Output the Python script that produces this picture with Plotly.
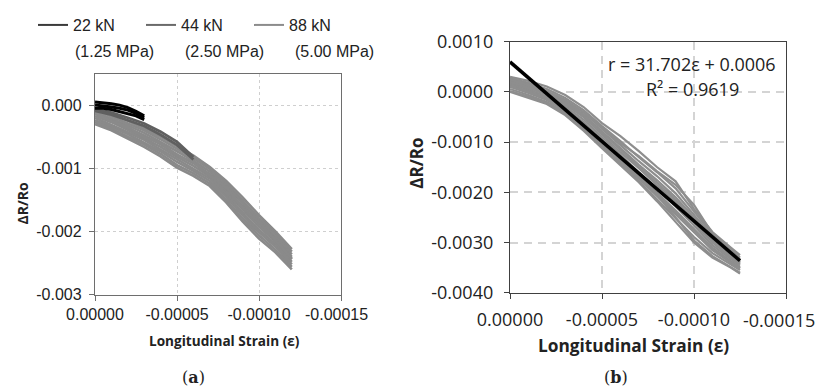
import plotly.graph_objects as go

# figure is placed by the page 8 px from the top-left corner
OFF = 8
FW, FH = 823 - OFF, 387 - OFF

# ---------------- data: panel (a) ----------------
xa_88 = [0, -1e-5, -2e-5, -3e-5, -4e-5, -5e-5, -6e-5, -7e-5, -8e-5, -9e-5, -10e-5, -11e-5, -12e-5]
ya_88 = [
    [-0.00004, -0.00014, -0.00025, -0.00037, -0.00050, -0.00065, -0.00080, -0.00098, -0.00120, -0.00146, -0.00174, -0.00200, -0.00228],
    [-0.00007, -0.00018, -0.00029, -0.00040, -0.00054, -0.00069, -0.00084, -0.00101, -0.00124, -0.00151, -0.00179, -0.00204, -0.00232],
    [-0.00011, -0.00021, -0.00032, -0.00044, -0.00058, -0.00073, -0.00088, -0.00105, -0.00128, -0.00155, -0.00183, -0.00208, -0.00236],
    [-0.00014, -0.00024, -0.00036, -0.00048, -0.00062, -0.00078, -0.00092, -0.00109, -0.00133, -0.00160, -0.00188, -0.00212, -0.00240],
    [-0.00017, -0.00027, -0.00039, -0.00052, -0.00066, -0.00082, -0.00096, -0.00113, -0.00137, -0.00165, -0.00192, -0.00216, -0.00244],
    [-0.00020, -0.00031, -0.00043, -0.00055, -0.00070, -0.00086, -0.00100, -0.00116, -0.00141, -0.00170, -0.00197, -0.00220, -0.00248],
    [-0.00024, -0.00034, -0.00046, -0.00059, -0.00073, -0.00090, -0.00104, -0.00120, -0.00145, -0.00174, -0.00201, -0.00224, -0.00252],
    [-0.00027, -0.00037, -0.00050, -0.00062, -0.00077, -0.00095, -0.00108, -0.00124, -0.00150, -0.00179, -0.00206, -0.00229, -0.00256],
    [-0.00030, -0.00040, -0.00053, -0.00066, -0.00081, -0.00099, -0.00112, -0.00128, -0.00154, -0.00184, -0.00211, -0.00233, -0.00260],
    [-0.00012, -0.00026, -0.00035, -0.00051, -0.00060, -0.00080, -0.00090, -0.00112, -0.00130, -0.00163, -0.00185, -0.00214, -0.00243],
]
xa_44 = [0, -1e-5, -2e-5, -3e-5, -4e-5, -5e-5, -6e-5]
ya_44 = [
    [-0.00006, -0.00012, -0.00020, -0.00029, -0.00042, -0.00058, -0.00082],
    [-0.00009, -0.00015, -0.00024, -0.00033, -0.00047, -0.00063, -0.00086],
]
xa_22 = [0, -0.5e-5, -1e-5, -1.5e-5, -2e-5, -2.5e-5, -3e-5]
ya_22 = [
    [0.00005, 0.00004, 0.00002, 0.00000, -0.00004, -0.00010, -0.00017],
    [0.00000, -0.00001, -0.00003, -0.00005, -0.00008, -0.00013, -0.00020],
    [-0.00005, -0.00005, -0.00007, -0.00010, -0.00013, -0.00017, -0.00023],
]

# ---------------- data: panel (b) ----------------
xb = [0, -1e-5, -2e-5, -3e-5, -4e-5, -5e-5, -6e-5, -7e-5, -8e-5, -9e-5, -10e-5, -11e-5, -12e-5, -12.5e-5]
yb = [
    [0.00030, 0.00022, 0.00011, -0.00006, -0.00030, -0.00062, -0.00088, -0.00118, -0.00150, -0.00178, -0.00233, -0.00279, -0.00310, -0.00325],
    [0.00027, 0.00018, 0.00006, -0.00012, -0.00036, -0.00068, -0.00098, -0.00130, -0.00160, -0.00192, -0.00238, -0.00284, -0.00314, -0.00330],
    [0.00024, 0.00015, 0.00002, -0.00016, -0.00041, -0.00074, -0.00106, -0.00138, -0.00168, -0.00202, -0.00244, -0.00288, -0.00318, -0.00333],
    [0.00021, 0.00011, -0.00002, -0.00020, -0.00045, -0.00079, -0.00112, -0.00145, -0.00176, -0.00210, -0.00250, -0.00292, -0.00322, -0.00336],
    [0.00018, 0.00008, -0.00005, -0.00025, -0.00050, -0.00085, -0.00120, -0.00152, -0.00185, -0.00220, -0.00260, -0.00300, -0.00330, -0.00343],
    [0.00016, 0.00005, -0.00009, -0.00029, -0.00055, -0.00090, -0.00126, -0.00160, -0.00193, -0.00228, -0.00266, -0.00305, -0.00333, -0.00346],
    [0.00013, 0.00002, -0.00012, -0.00033, -0.00060, -0.00095, -0.00131, -0.00166, -0.00200, -0.00236, -0.00273, -0.00310, -0.00337, -0.00349],
    [0.00010, -0.00002, -0.00016, -0.00037, -0.00065, -0.00099, -0.00136, -0.00172, -0.00207, -0.00243, -0.00280, -0.00315, -0.00340, -0.00352],
    [0.00006, -0.00006, -0.00020, -0.00041, -0.00070, -0.00104, -0.00140, -0.00177, -0.00214, -0.00252, -0.00289, -0.00321, -0.00344, -0.00355],
    [0.00000, -0.00012, -0.00024, -0.00046, -0.00077, -0.00112, -0.00145, -0.00180, -0.00218, -0.00258, -0.00300, -0.00330, -0.00350, -0.00362],
    [0.00002, -0.00009, -0.00022, -0.00043, -0.00073, -0.00108, -0.00143, -0.00172, -0.00205, -0.00250, -0.00296, -0.00327, -0.00348, -0.00360],
    [0.00025, 0.00012, 0.00000, -0.00018, -0.00040, -0.00070, -0.00102, -0.00128, -0.00158, -0.00185, -0.00225, -0.00282, -0.00320, -0.00340],
    [0.00020, 0.00009, -0.00004, -0.00022, -0.00047, -0.00081, -0.00116, -0.00149, -0.00181, -0.00215, -0.00256, -0.00296, -0.00326, -0.00340],
    [0.00012, 0.00000, -0.00014, -0.00035, -0.00062, -0.00097, -0.00134, -0.00169, -0.00203, -0.00240, -0.00277, -0.00313, -0.00339, -0.00351],
]
fit_slope = 31.702
fit_intercept = 0.0006
fit_x = [0, -0.000125]
fit_label = "r = 31.702ε + 0.0006"
r2_label = "R² = 0.9619"

legend_names = ["22 kN", "44 kN", "88 kN"]
legend_sub = ["(1.25 MPa)", "(2.50 MPa)", "(5.00 MPa)"]
legend_colors = ["#3a3a3a", "#6a6a6a", "#8c8c8c"]

NB = "\u00a0"
xticks = [0, -0.00005, -0.0001, -0.00015]
xa_tick_text = ["0.00000", "-0.00005", "-0.00010", "-0.00015" + NB * 2]
xb_tick_text = ["0.00000", "-0.00005", "-0.00010", ""]
xb_last_label = "-0.00015"
ya_ticks = [0.0, -0.001, -0.002, -0.003]
ya_text = ["0.000", "-0.001", "-0.002", "-0.003"]
yb_ticks = [0.001, 0.0, -0.001, -0.002, -0.003, -0.004]
yb_text = ["0.0010", "0.0000", "-0.0010", "-0.0020", "-0.0030", "-0.0040"]


def px(x):
    return (x - OFF) / FW


def py(y):
    return 1 - (y - OFF) / FH


fig = go.Figure()

# panel (a) traces
for ys in ya_88:
    fig.add_trace(go.Scatter(x=xa_88, y=ys, mode="lines", line=dict(color="#8a8a8a", width=2.6),
                             showlegend=False, xaxis="x", yaxis="y"))
for ys in ya_44:
    fig.add_trace(go.Scatter(x=xa_44, y=ys, mode="lines", line=dict(color="#606060", width=2.8),
                             showlegend=False, xaxis="x", yaxis="y"))
for ys in ya_22:
    fig.add_trace(go.Scatter(x=xa_22, y=ys, mode="lines", line=dict(color="#000000", width=3),
                             showlegend=False, xaxis="x", yaxis="y"))

# legend-only entries
for name, col in zip(legend_names, legend_colors):
    fig.add_trace(go.Scatter(x=[None], y=[None], mode="lines", name=name,
                             line=dict(color=col, width=2), xaxis="x", yaxis="y"))

# panel (b) traces
for ys in yb:
    fig.add_trace(go.Scatter(x=xb, y=ys, mode="lines", line=dict(color="#8e8e8e", width=2.2),
                             showlegend=False, xaxis="x2", yaxis="y2"))
fit_y = [fit_slope * v + fit_intercept for v in fit_x]
fig.add_trace(go.Scatter(x=fit_x, y=fit_y, mode="lines", line=dict(color="#000000", width=3.5),
                         showlegend=False, xaxis="x2", yaxis="y2"))

fa = "Liberation Sans, Arial, sans-serif"
fb = "Open Sans, sans-serif"

common_x = dict(range=[0, -0.00015], tickvals=xticks,
                ticks="outside", ticklen=5, showline=True, mirror=True,
                zeroline=False, automargin=False, ticklabeloverflow="allow")

fig.update_layout(
    width=FW, height=FH,
    margin=dict(l=0, r=0, t=0, b=0),
    paper_bgcolor="white", plot_bgcolor="white",
    xaxis=dict(**common_x, ticktext=xa_tick_text, domain=[px(95), px(341)], anchor="y",
               linecolor="#6e6e6e", linewidth=1.3, tickcolor="#6e6e6e",
               gridcolor="#cfcfcf", griddash="dot", gridwidth=1,
               tickfont=dict(family=fa, size=16, color="#222")),
    yaxis=dict(range=[-0.003, 0.0005], tickvals=ya_ticks, ticktext=ya_text,
               domain=[py(294), py(71)], anchor="x",
               ticks="outside", ticklen=5, showline=True, mirror=True, zeroline=False,
               linecolor="#6e6e6e", linewidth=1.3, tickcolor="#6e6e6e",
               gridcolor="#cfcfcf", griddash="dot", gridwidth=1, automargin=False,
               ticklabelstandoff=4,
               tickfont=dict(family=fa, size=16, color="#222")),
    xaxis2=dict(**common_x, ticktext=xb_tick_text, domain=[px(510), px(786)], anchor="y2",
                linecolor="#404040", linewidth=1.3, tickcolor="#404040",
                gridcolor="#d4d4d4", griddash="8px,6px", gridwidth=2,
                ticklabelstandoff=5,
                tickfont=dict(family=fb, size=18, color="#222")),
    yaxis2=dict(range=[-0.004, 0.001], tickvals=yb_ticks, ticktext=yb_text,
                domain=[py(292), py(39)], anchor="x2",
                ticks="outside", ticklen=5, showline=True, mirror=True, zeroline=False,
                linecolor="#404040", linewidth=1.3, tickcolor="#404040",
                gridcolor="#d4d4d4", griddash="8px,6px", gridwidth=2, automargin=False,
                ticklabelstandoff=7,
                tickfont=dict(family=fb, size=18, color="#222")),
    legend=dict(orientation="h", x=px(33), y=py(5), xanchor="left", yanchor="top",
                entrywidth=63, entrywidthmode="pixels", bgcolor="rgba(0,0,0,0)",
                font=dict(family=fa, size=16, color="#222"), tracegroupgap=0),
    showlegend=True,
)

ann = []
for i, s in enumerate(legend_sub):
    ann.append(dict(x=px(73 + 110 * i), y=py(49), xref="paper", yref="paper", text=s,
                    showarrow=False, xanchor="left", yanchor="middle",
                    font=dict(family=fa, size=16, color="#222")))
# last tick label of panel (b), pulled inside the figure edge as in the original
ann.append(dict(x=xticks[-1], xref="x2", y=py(319), yref="paper", text=xb_last_label,
                xshift=-7, showarrow=False, xanchor="center", yanchor="middle",
                font=dict(family=fb, size=18, color="#222")))
# axis titles
ann.append(dict(x=px(224), y=py(340), xref="paper", yref="paper", text="<b>Longitudinal Strain (ε)</b>",
                showarrow=False, xanchor="center", yanchor="middle",
                font=dict(family=fb, size=13.6, color="#222")))
ann.append(dict(x=px(633), y=py(345), xref="paper", yref="paper", text="<b>Longitudinal Strain (ε)</b>",
                showarrow=False, xanchor="center", yanchor="middle",
                font=dict(family=fb, size=17.3, color="#222")))
ann.append(dict(x=px(22), y=py(202), xref="paper", yref="paper", text="<b>ΔR/Ro</b>", textangle=-90,
                showarrow=False, xanchor="center", yanchor="middle",
                font=dict(family=fb, size=14, color="#222")))
ann.append(dict(x=px(417), y=py(162), xref="paper", yref="paper", text="<b>ΔR/Ro</b>", textangle=-90,
                showarrow=False, xanchor="center", yanchor="middle",
                font=dict(family=fb, size=17, color="#222")))
# panel labels
ann.append(dict(x=px(193), y=py(377), xref="paper", yref="paper", text="(<b>a</b>)",
                showarrow=False, xanchor="center", yanchor="middle",
                font=dict(family="DejaVu Serif, serif", size=16, color="#222")))
ann.append(dict(x=px(616), y=py(377), xref="paper", yref="paper", text="(<b>b</b>)",
                showarrow=False, xanchor="center", yanchor="middle",
                font=dict(family="DejaVu Serif, serif", size=16, color="#222")))
# fit equation
ann.append(dict(x=px(692), y=py(61), xref="paper", yref="paper", text=fit_label,
                showarrow=False, xanchor="center", yanchor="middle",
                font=dict(family=fb, size=18, color="#222")))
ann.append(dict(x=px(692), y=py(87), xref="paper", yref="paper", text=r2_label,
                showarrow=False, xanchor="center", yanchor="middle",
                font=dict(family=fb, size=18, color="#222")))
fig.update_layout(annotations=ann)

fig.write_html("out.html")
